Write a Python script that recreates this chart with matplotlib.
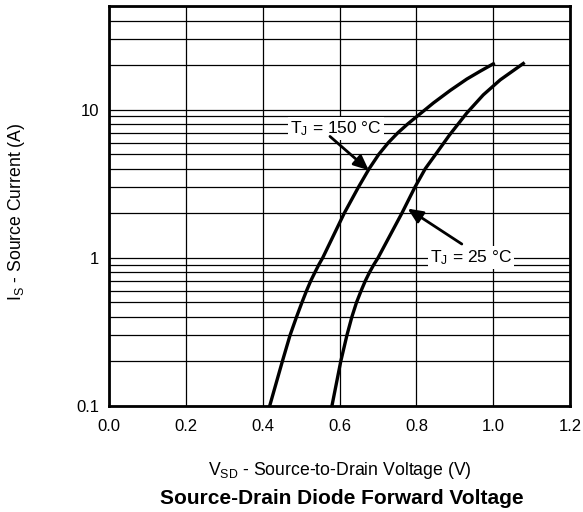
import matplotlib
matplotlib.use('Agg')
import matplotlib.pyplot as plt
from matplotlib.ticker import LogLocator, FixedLocator, NullFormatter

plt.rcParams['font.family'] = ['Liberation Sans', 'DejaVu Sans']
plt.rcParams['mathtext.default'] = 'regular'

# Source-drain diode forward characteristic
i_150 = [0.1, 0.2, 0.3, 0.4, 0.5, 0.6, 0.7, 0.8, 0.9, 1, 2, 3, 4, 5, 6, 7, 8,
         9, 11.1, 13.5, 16.1, 18.2, 20.4]
v_150 = [0.418, 0.451, 0.471, 0.488, 0.502, 0.514, 0.525, 0.536, 0.546, 0.556,
         0.612, 0.649, 0.677, 0.702, 0.727, 0.752, 0.777, 0.801, 0.844, 0.888,
         0.931, 0.966, 1.0]

i_25 = [0.1, 0.2, 0.3, 0.4, 0.5, 0.6, 0.7, 0.8, 0.9, 1, 2, 3, 4, 5, 6.75, 9.5,
        12.6, 15.9, 20.5]
v_25 = [0.580, 0.603, 0.619, 0.632, 0.644, 0.656, 0.667, 0.678, 0.689, 0.700,
        0.762, 0.796, 0.823, 0.850, 0.886, 0.931, 0.974, 1.018, 1.078]

x_ticks = [0.0, 0.2, 0.4, 0.6, 0.8, 1.0, 1.2]
y_ticks = [0.1, 1, 10]
y_tick_labels = ['0.1', '1', '10']

fig = plt.figure(figsize=(5.83, 5.12), dpi=100)
ax = fig.add_axes([0.187, 0.207, 0.791, 0.781])

ax.plot(v_150, i_150, color='black', lw=2.4, solid_joinstyle='round', zorder=3)
ax.plot(v_25, i_25, color='black', lw=2.4, solid_joinstyle='round', zorder=3)

ax.set_yscale('log')
ax.set_xlim(0, 1.2)
ax.set_ylim(0.1, 50)
ax.set_xticks(x_ticks)
ax.set_xticklabels(['%.1f' % t for t in x_ticks])
ax.yaxis.set_major_locator(FixedLocator(y_ticks))
ax.set_yticklabels(y_tick_labels)
ax.yaxis.set_minor_locator(LogLocator(base=10, subs=range(2, 10)))
ax.yaxis.set_minor_formatter(NullFormatter())

ax.grid(True, which='both', color='black', lw=0.9)
ax.tick_params(which='both', length=0, labelsize=12)
ax.tick_params(axis='x', pad=9)
ax.tick_params(axis='y', pad=7)
for s in ax.spines.values():
    s.set_linewidth(2)
    s.set_zorder(4)

fig.text(0.583, 0.082, 'V$_{SD}$ - Source-to-Drain Voltage (V)', ha='center',
         va='center', fontsize=12.7)
fig.text(0.028, 0.587, 'I$_{S}$ - Source Current (A)', ha='center', va='center',
         rotation=90, fontsize=12.7)
fig.text(0.587, 0.027, 'Source-Drain Diode Forward Voltage', ha='center',
         va='center', fontsize=15, fontweight='bold')

# labels with arrows
box = dict(facecolor='white', edgecolor='none', pad=1.5)
ax.text(0.591, 7.5, 'T$_{J}$ = 150 °C', ha='center', va='center',
        fontsize=12.5, bbox=box, zorder=5)
ax.text(0.942, 1.0, 'T$_{J}$ = 25 °C', ha='center', va='center',
        fontsize=12.5, bbox=box, zorder=5)
arrow = dict(arrowstyle='-|>,head_length=0.45,head_width=0.2', color='black',
             lw=2.0, shrinkA=0, shrinkB=0, mutation_scale=20)
ax.annotate('', xy=(0.676, 3.9), xytext=(0.575, 6.6), arrowprops=arrow, zorder=5)
ax.annotate('', xy=(0.777, 2.15), xytext=(0.918, 1.24), arrowprops=arrow, zorder=5)

fig.savefig('out.png', dpi=100)
